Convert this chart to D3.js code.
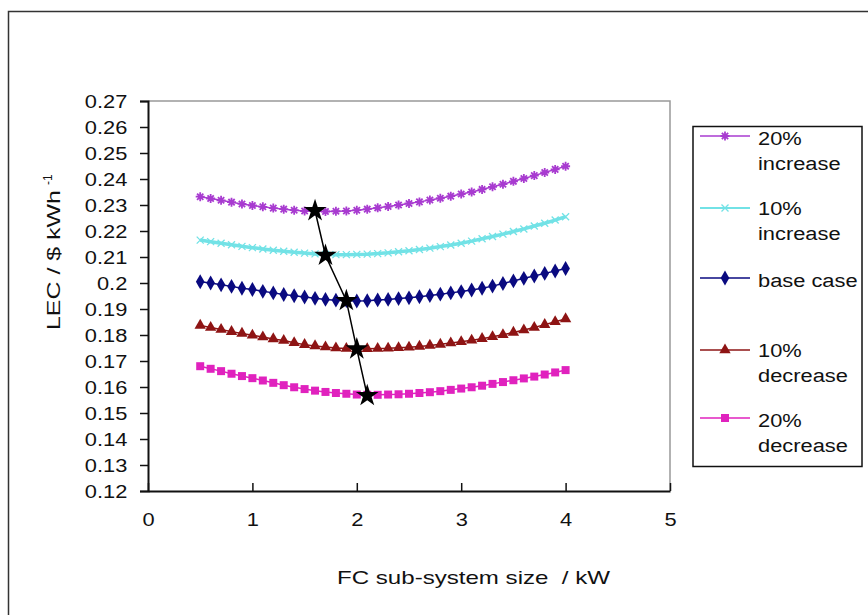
<!DOCTYPE html>
<html><head><meta charset="utf-8">
<script src="https://cdn.jsdelivr.net/npm/d3@7/dist/d3.min.js"></script>
<style>body{margin:0;background:#fff}svg{display:block}text{font-family:"Liberation Sans",Arial,sans-serif;fill:#111}</style>
</head><body><svg id="c" width="868" height="615"></svg>
<script>
const xValues = [0.5,0.6,0.7,0.8,0.9,1.0,1.1,1.2,1.3,1.4,1.5,1.6,1.7,1.8,1.9,2.0,2.1,2.2,2.3,2.4,2.5,2.6,2.7,2.8,2.9,3.0,3.1,3.2,3.3,3.4,3.5,3.6,3.7,3.8,3.9,4.0];
const inc20 = [0.2332,0.2325,0.2318,0.2311,0.2304,0.2298,0.2293,0.2288,0.2284,0.2280,0.2277,0.2276,0.2275,0.2276,0.2277,0.2280,0.2284,0.2289,0.2294,0.2300,0.2306,0.2312,0.2319,0.2326,0.2334,0.2342,0.2350,0.2360,0.2370,0.2380,0.2391,0.2402,0.2413,0.2425,0.2437,0.2449];
const inc10 = [0.2165,0.2159,0.2153,0.2147,0.2141,0.2136,0.2131,0.2126,0.2122,0.2118,0.2115,0.2112,0.2110,0.2109,0.2109,0.2110,0.2111,0.2113,0.2116,0.2120,0.2124,0.2129,0.2134,0.2140,0.2146,0.2153,0.2161,0.2170,0.2179,0.2188,0.2198,0.2208,0.2219,0.2230,0.2242,0.2255];
const baseCase = [0.2005,0.2000,0.1993,0.1987,0.1980,0.1975,0.1968,0.1962,0.1956,0.1951,0.1946,0.1941,0.1937,0.1934,0.1932,0.1931,0.1932,0.1935,0.1937,0.1940,0.1943,0.1947,0.1952,0.1957,0.1962,0.1967,0.1973,0.1980,0.1988,0.1998,0.2008,0.2018,0.2027,0.2037,0.2046,0.2056];
const dec10 = [0.1837,0.1829,0.1821,0.1813,0.1806,0.1799,0.1792,0.1785,0.1779,0.1770,0.1763,0.1758,0.1754,0.1750,0.1748,0.1747,0.1747,0.1748,0.1749,0.1751,0.1753,0.1756,0.1760,0.1764,0.1769,0.1774,0.1780,0.1786,0.1793,0.1801,0.1810,0.1819,0.1829,0.1840,0.1851,0.1862];
const dec20 = [0.1680,0.1670,0.1661,0.1651,0.1642,0.1634,0.1625,0.1616,0.1607,0.1599,0.1592,0.1586,0.1581,0.1577,0.1574,0.1571,0.1570,0.1570,0.1571,0.1572,0.1574,0.1577,0.1580,0.1584,0.1589,0.1594,0.1599,0.1605,0.1612,0.1619,0.1626,0.1633,0.1640,0.1648,0.1656,0.1665];
const optimumX = [1.6,1.7,1.9,2.0,2.1];
const optimumY = [0.2278,0.2106,0.1932,0.1746,0.1567];
const seriesNames = [["20%","increase"],["10%","increase"],["base case"],["10%","decrease"],["20%","decrease"]];
const yTicks = [0.12,0.13,0.14,0.15,0.16,0.17,0.18,0.19,0.2,0.21,0.22,0.23,0.24,0.25,0.26,0.27];
const xTicks = [0,1,2,3,4,5];

const svg = d3.select("#c");
const L=148, R=670, T=101, B=491;
const SX = 1.15, FS = 19;
const x = d3.scaleLinear().domain([0,5]).range([L,R]);
const y = d3.scaleLinear().domain([0.12,0.27]).range([B,T]);

// outer frame
svg.append("rect").attr("x",8.5).attr("y",11.5).attr("width",900).attr("height",700)
  .attr("fill","none").attr("stroke","#333").attr("stroke-width",1.5);

// plot frame (top & right grey)
svg.append("path").attr("d",`M${L},${T}H${R}V${B}`).attr("fill","none").attr("stroke","#999").attr("stroke-width",1.5);

// axes
const yAxis = d3.axisLeft(y).tickValues(yTicks).tickSize(8).tickPadding(10).tickFormat(d=>String(+d.toFixed(2)));
const gy = svg.append("g").attr("transform",`translate(${L},0)`).call(yAxis);
const xAxis = d3.axisBottom(x).tickValues(xTicks).tickSizeInner(-8).tickSizeOuter(0).tickPadding(22).tickFormat(d3.format("d"));
const gx = svg.append("g").attr("transform",`translate(0,${B})`).call(xAxis);
[gx,gy].forEach(g=>{
  g.selectAll("path.domain").attr("stroke","#111").attr("stroke-width",2);
  g.selectAll("line").attr("stroke","#111").attr("stroke-width",1.5);
  g.selectAll("text").attr("font-size",FS).attr("font-family","Liberation Sans, Arial, sans-serif")
    .attr("fill","#2a2a2a").attr("transform",`scale(${SX},1)`);
});

// markers
function asterisk(s){return `M${-s},0H${s}M0,${-s}V${s}M${-s*0.7},${-s*0.7}L${s*0.7},${s*0.7}M${-s*0.7},${s*0.7}L${s*0.7},${-s*0.7}`;}
function cross(s){return `M${-s},${-s}L${s},${s}M${-s},${s}L${s},${-s}`;}
const series = [
  {vals:inc20, color:"#A83BD0", marker:"asterisk"},
  {vals:inc10, color:"#72E2E6", marker:"cross"},
  {vals:baseCase, color:"#0A0A80", marker:"diamond"},
  {vals:dec10, color:"#8E1414", marker:"triangle"},
  {vals:dec20, color:"#E022BE", marker:"square"}
];
function drawMarker(g, m, color){
  if(m==="asterisk") g.append("path").attr("d",asterisk(4.5)).attr("stroke",color).attr("stroke-width",1.8).attr("fill","none");
  else if(m==="cross") g.append("path").attr("d",cross(3.5)).attr("stroke",color).attr("stroke-width",1.3).attr("fill","none");
  else if(m==="diamond") g.append("path").attr("d",d3.symbol(d3.symbolDiamond,64)()).attr("fill",color);
  else if(m==="triangle") g.append("path").attr("d",d3.symbol(d3.symbolTriangle,56)()).attr("fill",color);
  else if(m==="square") g.append("path").attr("d",d3.symbol(d3.symbolSquare,64)()).attr("fill",color);
}
const line = d3.line().x(d=>x(d[0])).y(d=>y(d[1]));
series.forEach(s=>{
  const pts = xValues.map((xv,i)=>[xv,s.vals[i]]);
  svg.append("path").datum(pts).attr("d",line).attr("fill","none").attr("stroke",s.color).attr("stroke-width",s.marker==="cross"?3.5:1.5);
  pts.forEach(p=>{
    const g = svg.append("g").attr("transform",`translate(${x(p[0])},${y(p[1])})`);
    drawMarker(g,s.marker,s.color);
  });
});

// optimum line with stars
const opt = optimumX.map((v,i)=>[v,optimumY[i]]);
svg.append("path").datum(opt).attr("d",line).attr("fill","none").attr("stroke","#000").attr("stroke-width",1.5);
opt.forEach(p=>{
  svg.append("path").attr("transform",`translate(${x(p[0])},${y(p[1])})`)
    .attr("d",d3.symbol(d3.symbolStar,160)()).attr("fill","#000");
});

// axis titles
svg.append("text").attr("x",337).attr("y",584).attr("font-size",FS)
  .attr("textLength",273).attr("lengthAdjust","spacingAndGlyphs")
  .attr("xml:space","preserve").attr("fill","#2a2a2a").text("FC sub-system size  / kW");
const yt = svg.append("text").attr("transform","translate(60,330) rotate(-90)").attr("font-size",FS).attr("fill","#2a2a2a");
yt.append("tspan").attr("textLength",140).attr("lengthAdjust","spacingAndGlyphs").text("LEC / $ kWh");
yt.append("tspan").attr("font-size",12).attr("dx",5).attr("dy",-8).text("-1");

// legend
svg.append("rect").attr("x",693).attr("y",126.5).attr("width",169).attr("height",340).attr("fill","#fff").attr("stroke","#111").attr("stroke-width",1.5);
const legY = [136,208,278,350,418];
const legBase = [[145,170],[215,240],[287],[357,382],[427,452]];
series.forEach((s,i)=>{
  const ly = legY[i];
  svg.append("line").attr("x1",700).attr("x2",750).attr("y1",ly).attr("y2",ly).attr("stroke",s.color).attr("stroke-width",s.marker==="cross"?2:1.5);
  const g = svg.append("g").attr("transform",`translate(725,${ly})`);
  drawMarker(g,s.marker,s.color);
  seriesNames[i].forEach((w,j)=>{
    svg.append("text").attr("transform",`translate(758,${legBase[i][j]}) scale(${SX},1)`)
      .attr("font-size",FS).attr("fill","#2a2a2a").text(w);
  });
});
</script></body></html>
